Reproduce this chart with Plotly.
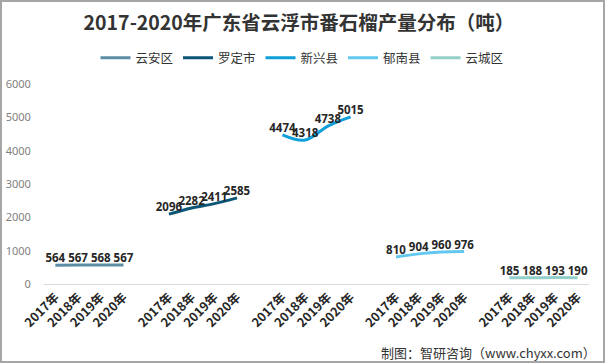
import plotly.graph_objects as go

years = ["2017年", "2018年", "2019年", "2020年"]
regions = ["云安区", "罗定市", "新兴县", "郁南县", "云城区"]
yunan = [564, 567, 568, 567]
luoding = [2096, 2282, 2411, 2585]
xinxing = [4474, 4318, 4738, 5015]
yunnan_county = [810, 904, 960, 976]
yuncheng = [185, 188, 193, 190]
series = [yunan, luoding, xinxing, yunnan_county, yuncheng]
colors = ["#5B8EA6", "#0B5577", "#0FA0DA", "#63C8F0", "#93CFCB"]

FONT = "Noto Sans CJK SC, Noto Sans, sans-serif"
NUMFONT = "Noto Sans, sans-serif"

fig = go.Figure()
tickvals, ticktext = [], []
for g, (name, vals, c) in enumerate(zip(regions, series, colors)):
    xs = [g * 5 + i for i in range(len(years))]
    tickvals += xs
    ticktext += [f"<b>{y}</b>" for y in years]
    fig.add_trace(go.Scatter(
        x=xs, y=vals, name=name, mode="lines+text",
        line=dict(color=c, width=3, shape="spline"),
        text=[f"<b>{v}</b>" for v in vals], textposition="top center",
        textfont=dict(size=11.5, color="#262626", family=NUMFONT),
        cliponaxis=False,
    ))

fig.update_layout(
    width=605, height=363,
    margin=dict(l=44, r=16, t=84, b=79, autoexpand=False),
    paper_bgcolor="white", plot_bgcolor="white",
    font=dict(family=FONT),
    title=dict(text="<b>2017-2020年广东省云浮市番石榴产量分布（吨）</b>",
               x=(299 - 44) / 545, xref="paper", xanchor="center",
               y=1 - 23 / 363, yanchor="middle",
               font=dict(size=19.5, color="#333333", family=FONT)),
    legend=dict(orientation="h", x=(302 - 44) / 545, xanchor="center", y=1.13, yanchor="middle",
                font=dict(size=12.5, color="#333333", family=FONT),
                itemwidth=30, tracegroupgap=0),
    showlegend=True,
)
fig.update_xaxes(range=[-0.5, 23.5], tickmode="array", tickvals=tickvals, ticktext=ticktext,
                 tickangle=-45, tickfont=dict(size=12.5, color="#262626", family=FONT),
                 automargin=False,
                 showgrid=False, zeroline=False, showline=True, linecolor="#d9d9d9", linewidth=1)
fig.update_yaxes(range=[0, 6000], dtick=1000, showgrid=False, zeroline=False, automargin=False,
                 tickfont=dict(size=11, color="#7f7f7f", family=NUMFONT),
                 ticks="outside", ticklen=10, tickcolor="rgba(0,0,0,0)")

fig.add_annotation(text="制图：智研咨询（www.chyxx.com）", xref="paper", yref="paper",
                   x=(598 - 44) / 545, y=(284 - 352) / 200, xanchor="right", yanchor="middle",
                   showarrow=False, font=dict(size=13, color="#333333", family=FONT))
fig.add_shape(type="rect", xref="paper", yref="paper",
              x0=-43 / 545, x1=560 / 545, y0=-78 / 200, y1=283 / 200,
              line=dict(color="#a6a6a6", width=2))

fig.write_html("out.html", config={"displayModeBar": False},
               post_script="document.body.style.margin='0';")
